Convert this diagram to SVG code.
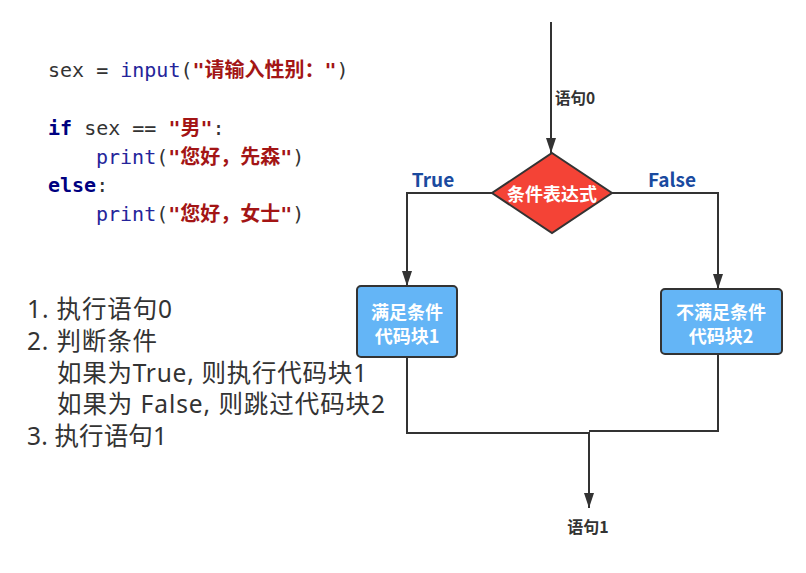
<svg xmlns="http://www.w3.org/2000/svg" width="806" height="573" viewBox="0 0 806 573">
<defs>
<style>
.code{font-family:"DejaVu Sans Mono","Noto Sans CJK SC",monospace;font-size:20px;fill:#333;}
.kw{fill:#000080;font-weight:bold;}
.fn{fill:#24249a;}
.str{fill:#a31515;font-weight:bold;}
.list{font-family:"Noto Sans","Noto Sans CJK SC",sans-serif;font-size:24.5px;fill:#333;}
.lbl{font-family:"Noto Sans CJK SC","Noto Sans",sans-serif;font-weight:bold;text-anchor:middle;}
.wt{fill:#fff;font-size:18px;}
.tf{fill:#1a4a9f;font-size:19px;}
.stmt{fill:#333;}
.edge{fill:none;stroke:#333;stroke-width:2;}
.box{fill:#64b5f6;stroke:#333;stroke-width:2;}
</style>
<marker id="arrb" viewBox="0 0 15 10" refX="15" refY="5" markerUnits="userSpaceOnUse" markerWidth="15" markerHeight="10" orient="auto">
<path d="M0,0 L15,5 L0,10 Z" fill="#333"/>
</marker>
</defs>
<rect width="806" height="573" fill="#fff"/>

<g id="code">
<text class="code" x="48" y="77">sex = <tspan class="fn">input</tspan>(<tspan class="str">"请输入性别："</tspan>)</text>
<text class="code" x="48" y="135"><tspan class="kw">if</tspan> sex == <tspan class="str">"男"</tspan>:</text>
<text class="code" x="96" y="164"><tspan class="fn">print</tspan>(<tspan class="str">"您好，先森"</tspan>)</text>
<text class="code" x="48" y="192"><tspan class="kw">else</tspan>:</text>
<text class="code" x="96" y="221"><tspan class="fn">print</tspan>(<tspan class="str">"您好，女士"</tspan>)</text>
</g>

<g id="steps">
<text class="list" x="27" y="318" textLength="145" lengthAdjust="spacing">1. 执行语句0</text>
<text class="list" x="27" y="350" textLength="130" lengthAdjust="spacing">2. 判断条件</text>
<text class="list" x="57" y="381.5" textLength="310" lengthAdjust="spacing">如果为True, 则执行代码块1</text>
<text class="list" x="57" y="413" textLength="328" lengthAdjust="spacing">如果为 False, 则跳过代码块2</text>
<text class="list" x="27" y="445" textLength="140" lengthAdjust="spacing">3. 执行语句1</text>
</g>

<g id="connectors">
<path class="edge" d="M551,22 V153" marker-end="url(#arrb)"/>
<path class="edge" d="M492,193 H407 V286" marker-end="url(#arrb)"/>
<path class="edge" d="M612,193 H718 V289" marker-end="url(#arrb)"/>
<path class="edge" d="M407,357 V433 H589"/>
<path class="edge" d="M718,354 V431 H589"/>
<path class="edge" d="M589,432 V508" marker-end="url(#arrb)"/>
<text class="lbl stmt" x="555" y="104" font-size="15.5" style="text-anchor:start">语句0</text>
<text class="lbl tf" x="433" y="187">True</text>
<text class="lbl tf" x="672" y="187">False</text>
</g>

<g id="cond">
<polygon points="552,153 612,193 552,233 492,193" fill="#f44336" stroke="#333" stroke-width="2"/>
<text class="lbl wt" x="552" y="201">条件表达式</text>
</g>

<g id="block1">
<rect class="box" x="357" y="286" width="100" height="71" rx="4"/>
<text class="lbl wt" x="407" y="319">满足条件</text>
<text class="lbl wt" x="407" y="343">代码块1</text>
</g>

<g id="block2">
<rect class="box" x="661" y="289" width="121" height="65" rx="4"/>
<text class="lbl wt" x="721" y="319">不满足条件</text>
<text class="lbl wt" x="721" y="343">代码块2</text>
</g>

<g id="end">
<text class="lbl stmt" x="588" y="533" font-size="16">语句1</text>
</g>
</svg>
